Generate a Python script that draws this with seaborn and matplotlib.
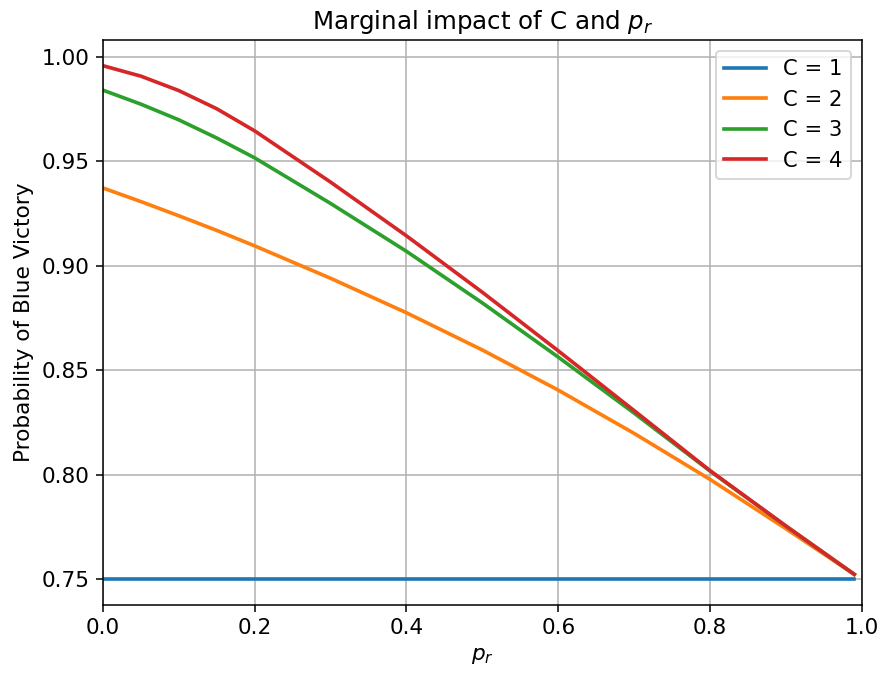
import matplotlib
matplotlib.use("Agg")
import matplotlib.pyplot as plt
import pandas as pd
import seaborn as sns

p_r = [0.0, 0.05, 0.1, 0.15, 0.2, 0.3, 0.4, 0.5, 0.6, 0.7, 0.8, 0.9, 0.99]

c1 = [0.75, 0.75, 0.75, 0.75, 0.75, 0.75, 0.75, 0.75, 0.75, 0.75, 0.75, 0.75, 0.75]
c2 = [0.9372, 0.9307, 0.9239, 0.9169, 0.9095, 0.8940, 0.8775, 0.8597, 0.8405, 0.8198, 0.7978, 0.7742, 0.7524]
c3 = [0.9840, 0.9773, 0.9698, 0.9611, 0.9516, 0.9298, 0.9069, 0.8822, 0.8563, 0.8295, 0.8018, 0.7755, 0.7524]
c4 = [0.9957, 0.9907, 0.9838, 0.9751, 0.9645, 0.9400, 0.9143, 0.8873, 0.8593, 0.8307, 0.8020, 0.7755, 0.7524]

series = {"C = 1": c1, "C = 2": c2, "C = 3": c3, "C = 4": c4}

df = pd.concat(
    [pd.DataFrame({"p_r": p_r, "prob": vals, "C": name}) for name, vals in series.items()],
    ignore_index=True,
)

fig, ax = plt.subplots(figsize=(883 / 138, 675 / 138), dpi=138)
fig.subplots_adjust(left=0.1166, right=0.976, top=0.9407, bottom=0.1037)

sns.lineplot(data=df, x="p_r", y="prob", hue="C", palette="tab10", ax=ax, linewidth=1.9)

ax.set_xlim(0, 1.0)
ax.grid(True)
ax.tick_params(labelsize=11.3)
ax.set_xlabel("$p_r$", fontsize=11.3)
ax.set_ylabel("Probability of Blue Victory", fontsize=11.3)
ax.set_title("Marginal impact of C and $p_r$", fontsize=12.8)
ax.legend(loc="upper right", fontsize=11)

fig.savefig("out.png", dpi=138)
